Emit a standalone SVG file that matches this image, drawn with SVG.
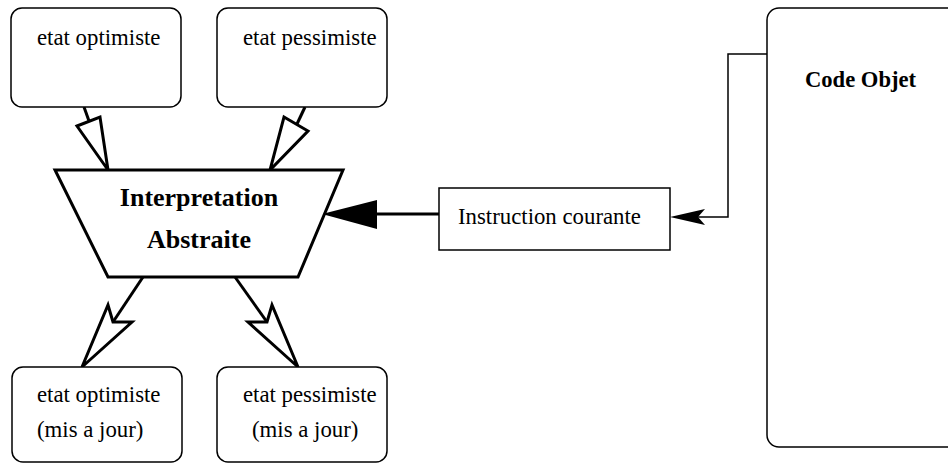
<svg xmlns="http://www.w3.org/2000/svg" width="948" height="464" viewBox="0 0 948 464">
<style>
.box{fill:#fff;stroke:#000;stroke-width:1.5}
.thick{fill:#fff;stroke:#000;stroke-width:3;stroke-linejoin:miter}
.t{font-family:"Liberation Serif","Times New Roman",serif;font-size:22.8px;fill:#000}
.b{font-family:"Liberation Serif","Times New Roman",serif;font-weight:bold;fill:#000}
.line{fill:none;stroke:#000}
</style>
<rect width="948" height="464" fill="#fff"/>
<g id="connectors">
  <line class="line" x1="84" y1="107" x2="89" y2="121" stroke-width="3"/>
  <polygon class="thick" points="77,126 100,117 108,170"/>
  <line class="line" x1="305" y1="107" x2="297" y2="124" stroke-width="3"/>
  <polygon class="thick" points="284,117 308,131 270,170"/>
  <line class="line" x1="143" y1="277" x2="113" y2="322" stroke-width="3"/>
  <polygon class="thick" points="82,367 108,305 113,322 132,322"/>
  <line class="line" x1="235" y1="277" x2="267" y2="322" stroke-width="3"/>
  <polygon class="thick" points="298,367 272,305 267,322 248,322"/>
  <line class="line" x1="439" y1="214" x2="370" y2="214" stroke-width="3"/>
  <polygon points="322,214 377,200 377,229" fill="#000"/>
  <polyline class="line" points="767,54 728,54 728,217 690,217" stroke-width="1.5"/>
  <polygon points="670,217 705,209 698,217 705,225" fill="#000"/>
</g>
<g id="etat-optimiste">
  <rect class="box" x="11" y="8" width="170" height="99" rx="11"/>
  <text class="t" x="37" y="45">etat optimiste</text>
</g>
<g id="etat-pessimiste">
  <rect class="box" x="217" y="8" width="170" height="99" rx="11"/>
  <text class="t" x="243" y="45">etat pessimiste</text>
</g>
<g id="interpretation">
  <polygon class="thick" points="55,170 343,170 298,277 108,277"/>
  <text class="b" x="199" y="206" text-anchor="middle" font-size="26">Interpretation</text>
  <text class="b" x="199" y="248" text-anchor="middle" font-size="26">Abstraite</text>
</g>
<g id="instruction-courante">
  <rect class="box" x="439" y="188" width="231" height="62"/>
  <text class="t" x="458" y="224">Instruction courante</text>
</g>
<g id="code-objet">
  <rect class="box" x="767" y="8" width="200" height="439" rx="12"/>
  <text class="b" x="805" y="87" font-size="22.6">Code Objet</text>
</g>
<g id="etat-optimiste-maj">
  <rect class="box" x="12" y="367" width="170" height="95" rx="11"/>
  <text class="t" x="37" y="402">etat optimiste</text>
  <text class="t" x="37" y="437">(mis a jour)</text>
</g>
<g id="etat-pessimiste-maj">
  <rect class="box" x="217" y="367" width="170" height="95" rx="11"/>
  <text class="t" x="243" y="402">etat pessimiste</text>
  <text class="t" x="252" y="437">(mis a jour)</text>
</g>
</svg>
